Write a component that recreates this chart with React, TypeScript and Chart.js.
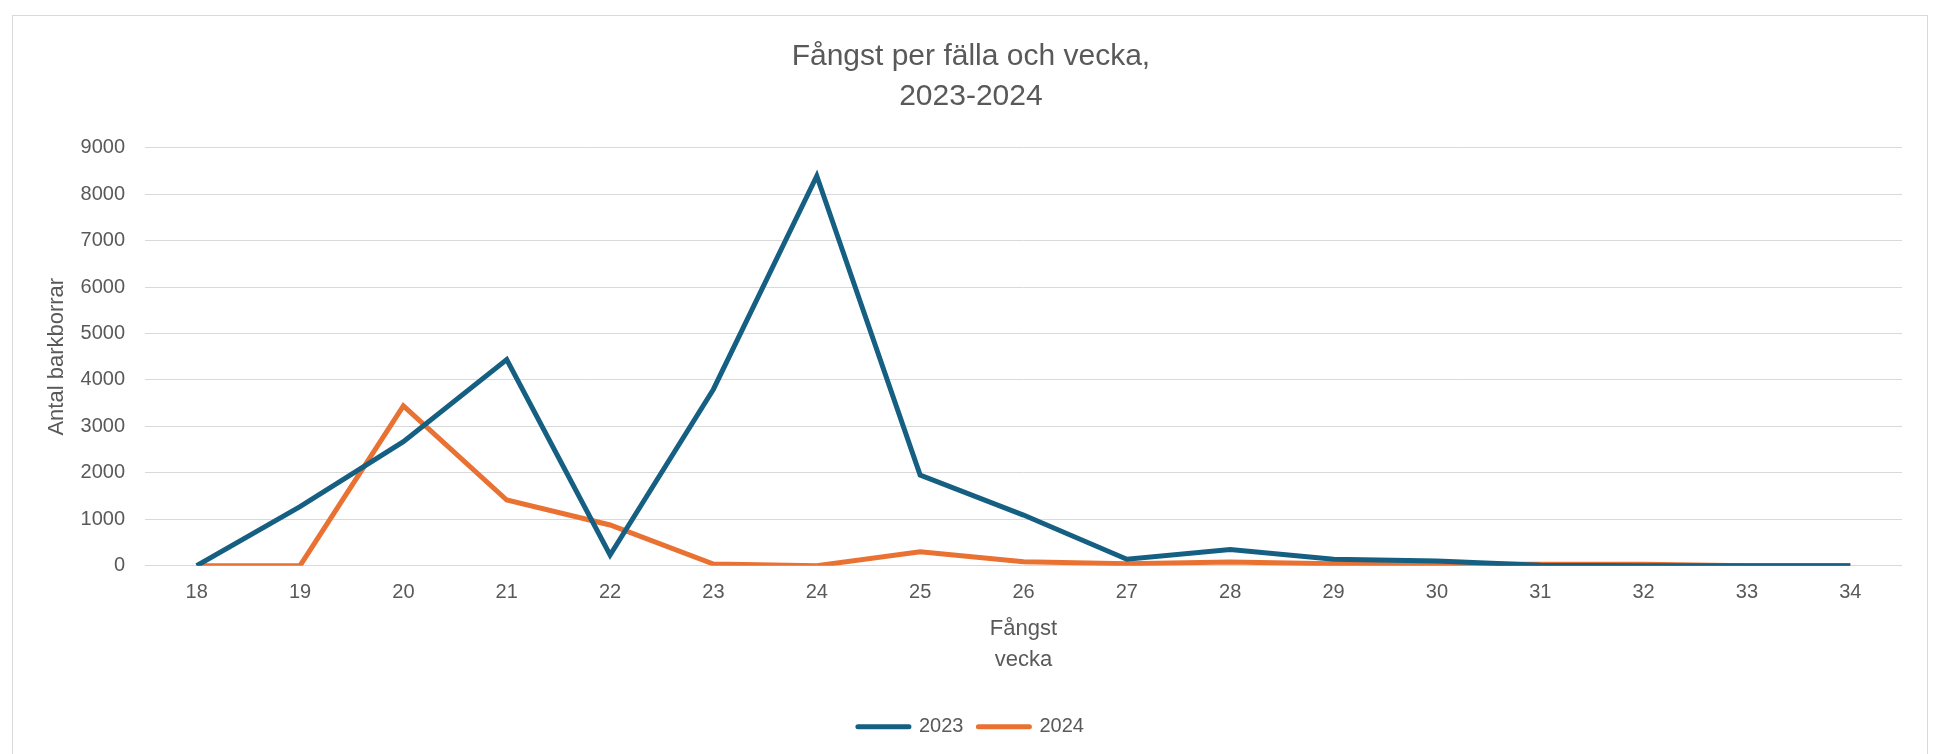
import React, { useEffect, useRef } from "react";
import { Chart, registerables } from "chart.js";

Chart.register(...registerables);

const weeks = ["18", "19", "20", "21", "22", "23", "24", "25", "26", "27", "28", "29", "30", "31", "32", "33", "34"];
const values2023 = [0, 1270, 2670, 4440, 230, 3800, 8390, 1950, 1090, 140, 350, 140, 100, 10, 0, 0, 0];
const values2024 = [0, 0, 3440, 1415, 876, 36, 0, 302, 86, 43, 80, 40, 30, 30, 30, 0, 0];
const seriesNames = ["2023", "2024"];
const seriesColors = ["#156082", "#E97132"];
const chartTitle = ["Fångst per fälla och vecka,", "2023-2024"];
const xTitle = ["Fångst", "vecka"];
const yTitle = "Antal barkborrar";

const FONT = "'Liberation Sans', Arial, sans-serif";
const TEXT = "#595959";
const GRID = "#d9d9d9";

export default function App() {
  const ref = useRef<HTMLCanvasElement | null>(null);

  useEffect(() => {
    if (!ref.current) return;
    const chart = new Chart(ref.current, {
      type: "line",
      data: {
        labels: weeks,
        datasets: [
          {
            label: seriesNames[0],
            data: values2023,
            borderColor: seriesColors[0],
            backgroundColor: seriesColors[0],
            borderWidth: 5,
            pointRadius: 0,
            tension: 0,
          },
          {
            label: seriesNames[1],
            data: values2024,
            borderColor: seriesColors[1],
            backgroundColor: seriesColors[1],
            borderWidth: 5,
            pointRadius: 0,
            tension: 0,
          },
        ],
      },
      options: {
        responsive: false,
        animation: false,
        devicePixelRatio: 1,
        layout: { padding: { left: 39.8, right: 40, top: 0, bottom: 7.3 } },
        plugins: {
          title: {
            display: true,
            text: chartTitle,
            color: TEXT,
            font: { family: FONT, size: 30, weight: "normal", lineHeight: 1.32 },
            padding: { top: 37.2, bottom: 31.3 },
          },
          legend: {
            position: "bottom",
            labels: {
              color: TEXT,
              font: { family: FONT, size: 20 },
              usePointStyle: true,
              pointStyle: "line",
              pointStyleWidth: 51,
              padding: 15,
              generateLabels: (c: any) => {
                const items = Chart.defaults.plugins.legend.labels.generateLabels(c);
                items.forEach((it: any) => {
                  it.lineCap = "round";
                  it.lineWidth = 5;
                  it.pointStyle = "line";
                });
                return items;
              },
            },
          },
          tooltip: { enabled: false },
        },
        scales: {
          x: {
            type: "category",
            offset: true,
            grid: { display: false, drawTicks: false },
            border: { display: false },
            ticks: {
              color: TEXT,
              font: { family: FONT, size: 20 },
              padding: 14.3,
              maxRotation: 0,
              autoSkip: false,
            },
            title: {
              display: true,
              text: xTitle,
              color: TEXT,
              font: { family: FONT, size: 22, lineHeight: 1.41 },
              padding: { top: 4, bottom: 26.2 },
            },
            afterFit: (s: any) => {
              s.height = 136;
            },
          },
          y: {
            min: 0,
            max: 9000,
            grid: { color: GRID, lineWidth: 1, drawTicks: false },
            border: { display: false },
            ticks: {
              stepSize: 1000,
              color: TEXT,
              font: { family: FONT, size: 20 },
              padding: 20,
              callback: (v: any) => String(v),
            },
            title: {
              display: true,
              text: yTitle,
              color: TEXT,
              font: { family: FONT, size: 22, lineHeight: 1.2 },
              padding: { top: 4, bottom: 4 },
            },
            afterFit: (s: any) => {
              s.width = 105.2;
            },
          },
        },
      },
    } as any);
    return () => chart.destroy();
  }, []);

  return (
    <div style={{ position: "absolute", left: 0, top: 0, width: 1942, height: 754, overflow: "hidden", background: "#fff" }}>
      <div
        style={{
          position: "absolute",
          left: 12,
          top: 15,
          width: 1916,
          height: 800,
          border: "1px solid #d9d9d9",
          boxSizing: "border-box",
        }}
      />
      <canvas ref={ref} width={1942} height={754} style={{ position: "absolute", left: 0, top: 0 }} />
    </div>
  );
}
